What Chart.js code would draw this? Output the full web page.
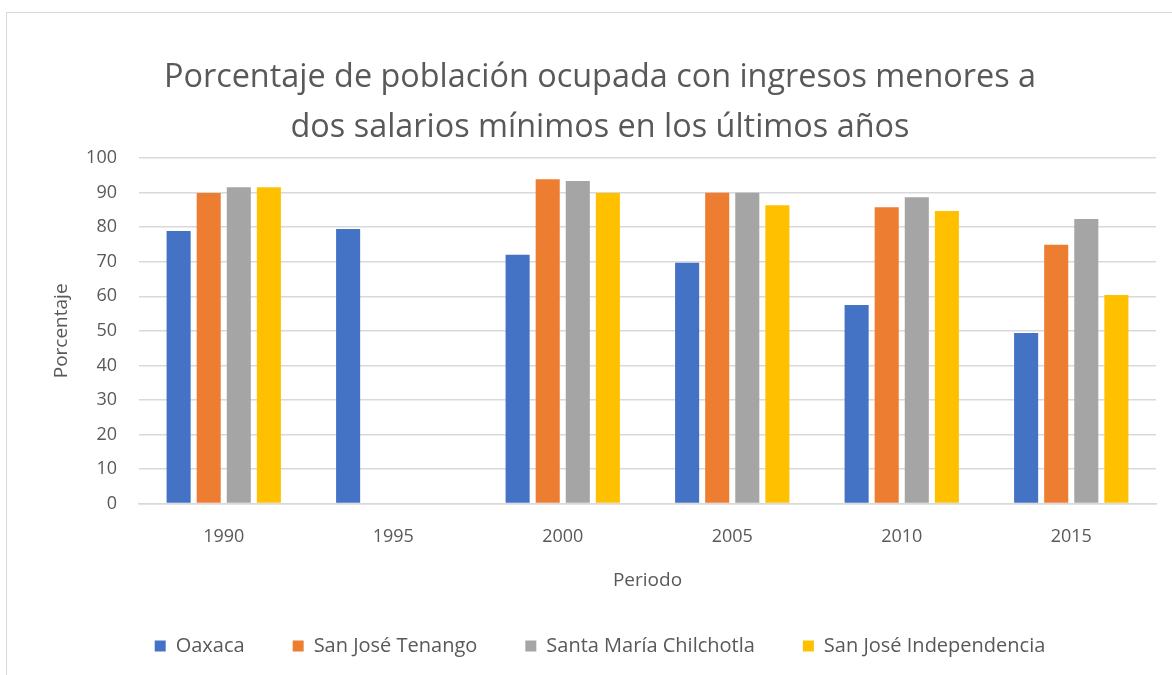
<!DOCTYPE html>
<html>
<head>
<meta charset="utf-8">
<script src="https://cdn.jsdelivr.net/npm/chart.js@4.4.0/dist/chart.umd.min.js"></script>
<style>
  html, body { margin: 0; padding: 0; background: #fff; overflow: hidden; }
  #frame {
    position: absolute; left: 6px; top: 12px; width: 1200px; height: 700px;
    border: 1px solid #d9d9d9; box-sizing: border-box;
  }
  #wrap { position: absolute; left: 0; top: 0; width: 1172px; height: 675px; }
</style>
</head>
<body>
<div id="frame"></div>
<div id="wrap"><canvas id="chart"></canvas></div>
<script>
const periods = ['1990', '1995', '2000', '2005', '2010', '2015'];
const oaxaca = [78.9, 79.5, 72, 69.7, 57.5, 49.4];
const sanJoseTenango = [89.9, null, 93.9, 90, 85.8, 74.9];
const santaMariaChilchotla = [91.6, null, 93.4, 90, 88.7, 82.4];
const sanJoseIndependencia = [91.6, null, 89.9, 86.4, 84.7, 60.4];

const FONT = "'Open Sans', sans-serif";
const GREY = '#595959';

const makeSet = (label, data, color) => ({
  label: label,
  data: data,
  backgroundColor: color,
  borderWidth: 0,
  barPercentage: 0.8,
  categoryPercentage: 0.71,
});

const chartData = {
  labels: periods,
  datasets: [
    makeSet('Oaxaca', oaxaca, '#4472c4'),
    makeSet('San José Tenango', sanJoseTenango, '#ed7d31'),
    makeSet('Santa María Chilchotla', santaMariaChilchotla, '#a5a5a5'),
    makeSet('San José Independencia', sanJoseIndependencia, '#ffc000'),
  ],
};

const options = {
  responsive: false,
  animation: false,
  layout: { padding: { left: 44, right: 16, top: 53, bottom: 9 } },
  scales: {
    y: {
      min: 0,
      max: 100,
      afterFit: (scale) => { scale.width = 95; },
      ticks: { stepSize: 10, color: GREY, font: { family: FONT, size: 18 }, padding: 22 },
      grid: { color: '#d9d9d9', lineWidth: 1.5, drawTicks: false },
      border: { display: false },
      title: { display: true, text: 'Porcentaje', color: GREY, font: { family: FONT, size: 19 }, padding: { top: 6, bottom: 0 } },
    },
    x: {
      ticks: { color: GREY, font: { family: FONT, size: 18 }, padding: 22 },
      grid: { display: false, drawTicks: false },
      border: { color: '#d9d9d9', width: 1.5 },
      title: { display: true, text: 'Periodo', color: GREY, font: { family: FONT, size: 19 }, padding: { top: 0, bottom: -4 } },
    },
  },
  plugins: {
    title: {
      display: true,
      text: ['Porcentaje de población ocupada con ingresos menores a', 'dos salarios mínimos en los últimos años'],
      color: GREY,
      font: { family: FONT, size: 32.4, weight: 'normal', lineHeight: 1.53 },
      padding: { top: 0, bottom: 6 },
    },
    legend: {
      position: 'bottom',
      labels: { color: GREY, font: { family: FONT, size: 20 }, boxWidth: 11, boxHeight: 11, padding: 48 },
    },
    tooltip: { enabled: false },
  },
};

const canvas = document.getElementById('chart');
canvas.width = 1172;
canvas.height = 675;
new Chart(canvas, { type: 'bar', data: chartData, options: options });
</script>
</body>
</html>
